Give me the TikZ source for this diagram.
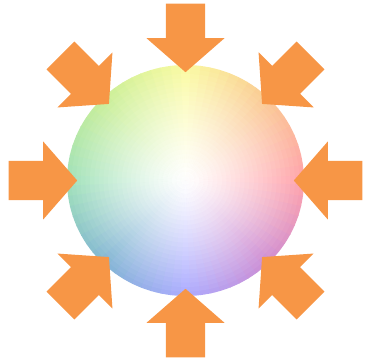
\documentclass[tikz,border=0pt]{standalone}
\usetikzlibrary{calc}
\definecolor{arrowor}{RGB}{247,150,70}
\definecolor{hA}{RGB}{255,162,170}
\definecolor{hB}{RGB}{250,200,145}
\definecolor{hC}{RGB}{250,250,160}
\definecolor{hD}{RGB}{200,238,150}
\definecolor{hE}{RGB}{160,225,185}
\definecolor{hF}{RGB}{128,180,210}
\definecolor{hG}{RGB}{170,170,255}
\definecolor{hH}{RGB}{205,140,210}
\begin{document}
\begin{tikzpicture}[x=1pt,y=1pt,
  arrowshape/.style={fill=arrowor}]
\useasboundingbox (0,0) rectangle (366,361);
\coordinate (c) at (185.5,180.5);
\foreach \n in {26,25,...,1}{
  \pgfmathsetmacro\f{\n/26}
  \pgfmathsetmacro\q{100*((\n-0.5)/26)^1.2}
  \begin{scope}
    \clip (c) ellipse [x radius=118.5*\f, y radius=115.5*\f];
    \foreach \a/\ca/\cb in {0/hA/hB,45/hB/hC,90/hC/hD,135/hD/hE,180/hE/hF,225/hF/hG,270/hG/hH,315/hH/hA}{
      \foreach \k in {0,...,8}{
        \pgfmathsetmacro\p{100*\k/9}
        \pgfmathsetmacro\s{\a+5*\k-2.5}
        \pgfmathsetmacro\e{\a+5*\k+3}
        \colorlet{wc}{\cb!\p!\ca}
        \colorlet{wd}{wc!\q!white}
        \fill[wd] (c) -- ($(c)+(\s:220)$) -- ($(c)+(\e:220)$) -- cycle;
      }
    }
  \end{scope}
}
\foreach \t in {0,45,...,315}{
  \fill[arrowshape, shift={($(c)+(\t:108.3)$)}, rotate=\t+180]
    (0,0) -- (-34,39) -- (-34,19.7) -- (-68.5,19.7) -- (-68.5,-19.7) -- (-34,-19.7) -- (-34,-39) -- cycle;
}
\end{tikzpicture}
\end{document}
